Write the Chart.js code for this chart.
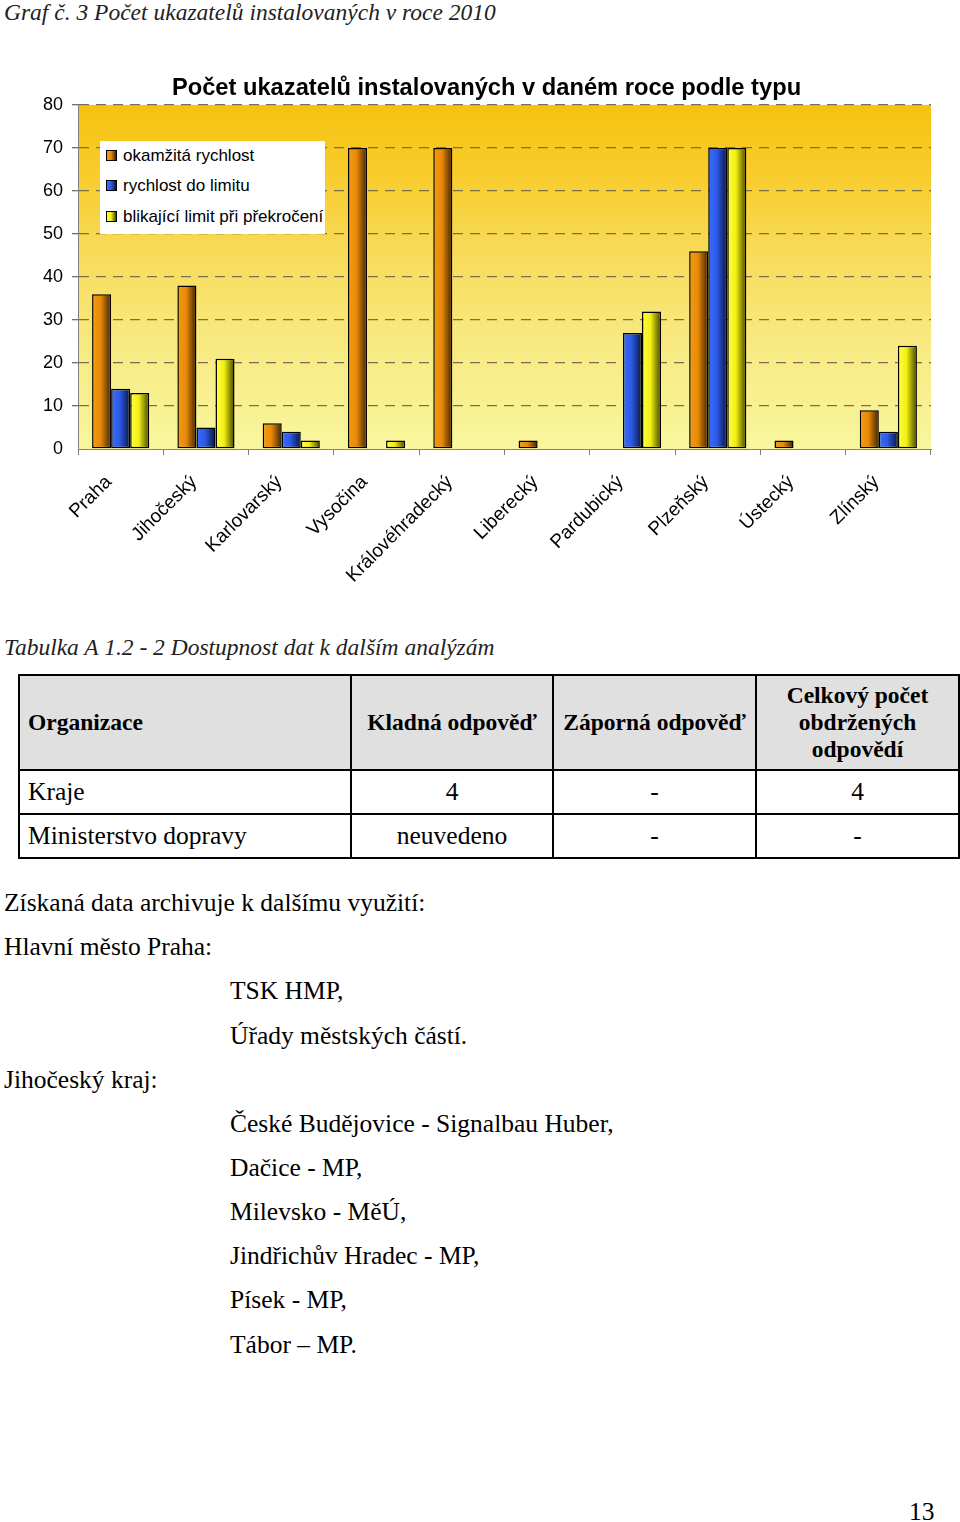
<!DOCTYPE html>
<html><head><meta charset="utf-8">
<script src="https://cdn.jsdelivr.net/npm/chart.js@4.4.1/dist/chart.umd.min.js"></script>
<style>
html,body{margin:0;padding:0;background:#fff}
body{width:960px;height:1522px;position:relative;overflow:hidden;font-family:"Liberation Serif","Times New Roman",serif;color:#000}
.t{position:absolute;white-space:nowrap;line-height:30px;height:30px;font-size:25.5px}
.cap{font-style:italic;font-size:23.5px;color:#222}
#wrap{position:absolute;left:0;top:40px;width:960px;height:560px}
#legend{position:absolute;left:100px;top:141px;width:225px;height:93px;background:#fff;font-family:"Liberation Sans",Arial,sans-serif;font-size:17px;color:#000}
.li{position:absolute;left:6px;height:20px;line-height:20px;white-space:nowrap}
.mk{display:inline-block;width:9px;height:9px;border:1px solid #000;margin-right:6px;vertical-align:0px}
table{position:absolute;left:18px;top:674px;border-collapse:collapse;table-layout:fixed;width:940px;font-size:25.5px}
td{border:2.5px solid #000;padding:0 8px;white-space:nowrap}
tr.h td{background:#e0e0e0;font-weight:bold;font-size:23.5px;height:93px;text-align:center;line-height:27px}
tr.r td{height:42px;text-align:center;line-height:30px}
tr td:first-child{text-align:left}
</style>
</head><body>
<div class="t cap" style="left:4px;top:-3px">Graf č. 3 Počet ukazatelů instalovaných v roce 2010</div>
<div id="wrap"><canvas id="c" width="960" height="560"></canvas></div>
<div id="legend"></div>

<div class="t cap" style="left:4px;top:632px">Tabulka A 1.2 - 2 Dostupnost dat k dalším analýzám</div>
<table>
<colgroup><col style="width:332px"><col style="width:202px"><col style="width:203px"><col style="width:203px"></colgroup>
<tr class="h"><td>Organizace</td><td>Kladná odpověď</td><td>Záporná odpověď</td><td>Celkový počet<br>obdržených<br>odpovědí</td></tr>
<tr class="r"><td>Kraje</td><td>4</td><td>-</td><td>4</td></tr>
<tr class="r"><td>Ministerstvo dopravy</td><td>neuvedeno</td><td>-</td><td>-</td></tr>
</table>

<div class="t" style="left:4px;top:888px">Získaná data archivuje k dalšímu využití:</div>
<div class="t" style="left:4px;top:932px">Hlavní město Praha:</div>
<div class="t" style="left:230px;top:976px">TSK HMP,</div>
<div class="t" style="left:230px;top:1021px">Úřady městských částí.</div>
<div class="t" style="left:4px;top:1065px">Jihočeský kraj:</div>
<div class="t" style="left:230px;top:1109px">České Budějovice - Signalbau Huber,</div>
<div class="t" style="left:230px;top:1153px">Dačice - MP,</div>
<div class="t" style="left:230px;top:1197px">Milevsko - MěÚ,</div>
<div class="t" style="left:230px;top:1241px">Jindřichův Hradec - MP,</div>
<div class="t" style="left:230px;top:1285px">Písek - MP,</div>
<div class="t" style="left:230px;top:1330px">Tábor – MP.</div>
<div class="t" style="left:909px;top:1497px">13</div>

<script>
// ---- data ----
const categories = ['Praha','Jihočeský','Karlovarský','Vysočina','Královéhradecký','Liberecký','Pardubický','Plzeňský','Ústecký','Zlínský'];
const seriesNames = ['okamžitá rychlost','rychlost do limitu','blikající limit při překročení'];
const okamzitaRychlost = [36,38,6,70,70,2,0,46,2,9];
const rychlostDoLimitu = [14,5,4,0,0,0,27,70,0,4];
const blikajiciLimit   = [13,21,2,2,0,0,32,70,0,24];
const yTicks = [0,10,20,30,40,50,60,70,80];
const chartTitle = 'Počet ukazatelů instalovaných v daném roce podle typu';

// ---- styles ----
const gradStops = [
  [[0,'#f59a14'],[0.45,'#e98a06'],[1,'#3f2200']],
  [[0,'#3a6cff'],[0.45,'#2c5ae6'],[1,'#08133c']],
  [[0,'#ffff48'],[0.45,'#f2f010'],[1,'#454400']]
];

const plotBg = {
  id:'plotBg',
  beforeDraw(chart){
    const {ctx, chartArea:a} = chart;
    const g = ctx.createLinearGradient(0,a.top,0,a.bottom);
    g.addColorStop(0,'#f6c20f');
    g.addColorStop(0.2,'#f7cc2c');
    g.addColorStop(0.45,'#f8dc5c');
    g.addColorStop(0.7,'#f8ea82');
    g.addColorStop(1,'#f8f69e');
    ctx.save(); ctx.fillStyle = g;
    ctx.fillRect(a.left,a.top,a.right-a.left,a.bottom-a.top);
    ctx.restore();
  }
};
const barGradient = {
  id:'barGradient',
  beforeDatasetsDraw(chart){
    const ctx = chart.ctx;
    chart.data.datasets.forEach((ds,i)=>{
      chart.getDatasetMeta(i).data.forEach(el=>{
        const x0 = el.x - el.width/2, x1 = el.x + el.width/2;
        const g = ctx.createLinearGradient(x0,0,x1,0);
        gradStops[i].forEach(s=>g.addColorStop(s[0],s[1]));
        el.options = Object.assign({}, el.options, {backgroundColor:g});
      });
    });
  }
};

const seriesData = [okamzitaRychlost, rychlostDoLimitu, blikajiciLimit];
const sans = '"Liberation Sans", Arial, sans-serif';

new Chart(document.getElementById('c'), {
  type:'bar',
  data:{
    labels: categories,
    datasets: seriesNames.map((n,i)=>({
      label:n, data:seriesData[i],
      backgroundColor:gradStops[i][1][1],
      borderColor:'#000', borderWidth:1.5, borderSkipped:false,
      categoryPercentage:0.67, barPercentage:1.0
    }))
  },
  options:{
    responsive:false, animation:false, devicePixelRatio:1,
    layout:{padding:{left:42,right:29,top:0,bottom:0}},
    plugins:{
      legend:{display:false},
      tooltip:{enabled:false},
      title:{display:true,text:chartTitle,color:'#000',
        font:{family:sans,size:23.7,weight:'bold'},padding:{top:34,bottom:2.5}}
    },
    scales:{
      x:{
        grid:{display:true,drawOnChartArea:false,drawTicks:true,tickLength:6,color:'#808080',offset:true},
        border:{display:true,color:'#808080',width:1},
        ticks:{font:{family:sans,size:19},color:'#000',minRotation:45,maxRotation:45,autoSkip:false,padding:16,labelOffset:-12},
        afterFit(s){ s.height = 151; }
      },
      y:{
        min:0,max:80,
        afterBuildTicks(s){ s.ticks = yTicks.map(v=>({value:v})); },
        ticks:{font:{family:sans,size:18},color:'#000',padding:9},
        grid:{color:c=> (c.tick && c.tick.value===0) ? 'rgba(0,0,0,0)' : '#77704c',lineWidth:1.3,tickLength:6,drawTicks:true},
        border:{display:true,color:'#808080',width:1,dash:[10,7]},
        afterFit(s){ s.width = 36; }
      }
    }
  },
  plugins:[plotBg,barGradient]
});

// HTML legend from series names
const lg = document.getElementById('legend');
seriesNames.forEach((n,i)=>{
  const d = document.createElement('div');
  d.className='li'; d.style.top = [5,35,66][i]+'px';
  const m = document.createElement('span'); m.className='mk';
  m.style.background = 'linear-gradient(to right,'+gradStops[i].map(s=>s[1]+' '+(s[0]*100)+'%').join(',')+')';
  d.appendChild(m); d.appendChild(document.createTextNode(n));
  lg.appendChild(d);
});
</script>
</body></html>
